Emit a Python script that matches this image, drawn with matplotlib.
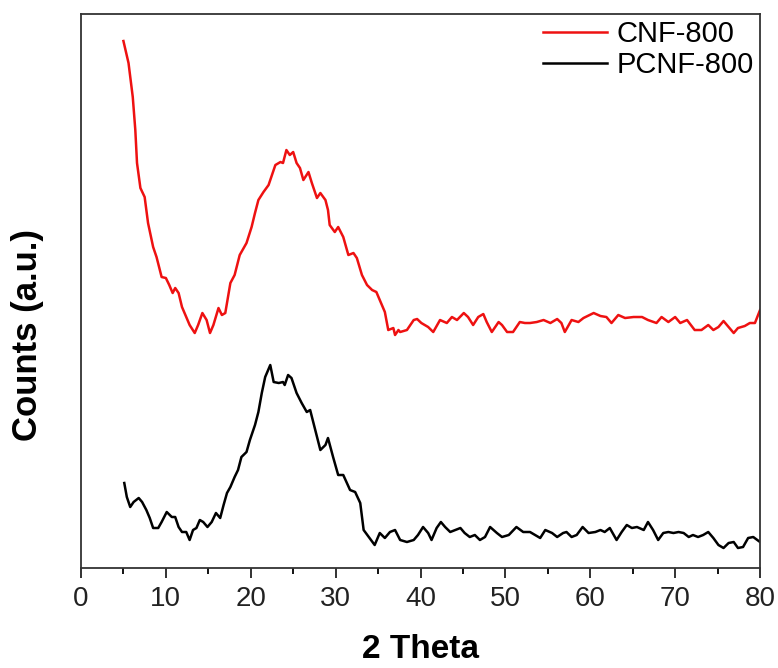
import matplotlib
matplotlib.use("Agg")
import matplotlib.pyplot as plt
from matplotlib.ticker import MultipleLocator

plt.rcParams['font.family'] = ['Liberation Sans', 'DejaVu Sans']

# XRD patterns (2 theta in degrees, intensity in a.u.)
cnf_theta = [5.0, 5.6, 6.1, 6.4, 6.6, 7.0, 7.5, 7.9, 8.5, 8.9, 9.5, 10.0, 10.4, 10.8,
             11.1, 11.5, 11.9, 12.3, 12.8, 13.4, 13.8, 14.3, 14.8, 15.2, 15.6, 16.2,
             16.6, 17.0, 17.6, 18.1, 18.7, 19.5, 20.1, 20.5, 20.9, 21.5, 22.1, 22.5,
             22.9, 23.5, 23.8, 24.2, 24.6, 25.0, 25.4, 25.8, 26.2, 26.8, 27.2, 27.8,
             28.2, 28.8, 29.1, 29.3, 29.9, 30.3, 30.9, 31.5, 32.1, 32.5, 33.1, 33.7,
             34.3, 34.8, 35.2, 35.8, 36.2, 36.8, 37.0, 37.4, 37.6, 38.4, 39.2, 39.6,
             40.1, 40.9, 41.5, 42.3, 43.1, 43.7, 44.3, 45.1, 45.6, 46.2, 46.8, 47.4,
             47.8, 48.4, 49.2, 49.6, 50.2, 50.9, 51.7, 52.3, 52.9, 53.7, 54.5, 55.3,
             56.1, 56.6, 57.0, 57.8, 58.6, 59.2, 60.4, 61.2, 61.9, 62.5, 63.3, 64.1,
             65.1, 66.1, 66.8, 67.8, 68.4, 69.2, 70.0, 70.6, 71.4, 72.3, 73.1, 73.9,
             74.5, 75.1, 75.7, 76.3, 76.9, 77.4, 78.2, 78.8, 79.4, 80.0]
cnf_counts = [527, 505, 471, 438, 405, 380, 371, 345, 321, 311, 291, 290, 283, 275,
              280, 275, 261, 253, 243, 235, 243, 255, 248, 235, 243, 260,
              253, 255, 285, 293, 313, 325, 341, 355, 368, 376, 383, 393,
              403, 406, 405, 418, 413, 416, 405, 400, 388, 396, 385, 370,
              375, 368, 358, 343, 336, 341, 331, 313, 315, 310, 293, 283,
              278, 276, 268, 256, 238, 240, 233, 238, 236, 238, 248, 249,
              245, 241, 236, 248, 245, 251, 248, 255, 251, 243, 251, 254,
              246, 236, 246, 243, 236, 236, 246, 245, 245, 246, 248, 245,
              249, 245, 236, 248, 246, 250, 255, 252, 251, 245, 253, 250,
              251, 251, 248, 245, 251, 246, 251, 245, 248, 238, 238, 243,
              238, 241, 247, 241, 235, 240, 242, 245, 245, 258]

pcnf_theta = [5.1, 5.4, 5.8, 6.2, 6.8, 7.2, 7.7, 8.1, 8.5, 9.1, 9.5, 10.1, 10.7, 11.1,
              11.5, 11.9, 12.4, 12.8, 13.2, 13.6, 14.0, 14.4, 14.9, 15.4, 15.9, 16.4,
              16.8, 17.2, 17.6, 18.1, 18.5, 18.9, 19.5, 19.9, 20.5, 20.9, 21.3, 21.7,
              22.3, 22.7, 23.3, 23.8, 24.0, 24.4, 24.8, 25.4, 26.0, 26.6, 27.0, 27.6,
              28.2, 28.8, 29.1, 29.7, 30.3, 30.9, 31.7, 32.3, 32.9, 33.3, 33.9, 34.6,
              35.2, 35.8, 36.4, 37.0, 37.6, 38.4, 39.2, 39.7, 40.3, 40.9, 41.3, 41.9,
              42.4, 42.9, 43.5, 44.1, 44.7, 45.2, 45.8, 46.4, 47.0, 47.6, 48.2, 49.0,
              49.6, 50.4, 51.3, 52.1, 52.9, 53.5, 54.1, 54.7, 55.5, 56.1, 56.8, 57.2,
              57.8, 58.4, 59.1, 59.8, 60.6, 61.2, 61.7, 62.3, 63.1, 63.7, 64.3, 64.9,
              65.5, 66.3, 66.8, 67.4, 68.0, 68.6, 69.2, 69.8, 70.4, 71.0, 71.6, 72.1,
              72.7, 73.3, 73.9, 74.5, 75.1, 75.7, 76.3, 76.9, 77.4, 78.0, 78.6, 79.2,
              80.0]
pcnf_counts = [85, 71, 61, 66, 70, 66, 58, 50, 40, 40, 46, 56, 51, 51,
               41, 36, 36, 28, 38, 40, 48, 46, 41, 46, 55, 50,
               63, 75, 81, 91, 98, 111, 116, 128, 143, 156, 175, 191,
               203, 186, 185, 186, 183, 193, 190, 175, 165, 156, 158, 138,
               118, 123, 130, 111, 93, 93, 78, 76, 65, 38, 31, 23,
               35, 30, 36, 38, 28, 26, 28, 33, 41, 35, 28, 40,
               46, 41, 36, 38, 40, 35, 31, 33, 28, 31, 41, 35,
               31, 33, 41, 36, 36, 33, 30, 38, 35, 31, 35, 36,
               31, 33, 41, 35, 36, 38, 36, 40, 28, 36, 43, 40,
               41, 38, 46, 38, 28, 35, 36, 35, 36, 35, 31, 33,
               31, 33, 36, 30, 23, 20, 25, 26, 20, 21, 30, 31,
               26]

fig = plt.figure(figsize=(7.78, 6.68), dpi=100)
ax = fig.add_axes([0.1041, 0.1497, 0.8728, 0.8293])

ax.plot(cnf_theta, cnf_counts, color='#ee1111', lw=1.8, label='CNF-800')
ax.plot(pcnf_theta, pcnf_counts, color='black', lw=1.8, label='PCNF-800')

ax.set_xlim(0, 80)
ax.set_ylim(0, 554)
ax.xaxis.set_major_locator(MultipleLocator(10))
ax.xaxis.set_minor_locator(MultipleLocator(5))
ax.tick_params(axis='x', which='major', direction='out', length=7, width=1.3,
               labelsize=20, pad=6, colors='#222222')
ax.tick_params(axis='x', which='minor', direction='out', length=4.5, width=1.3)
ax.set_yticks([])
for s in ax.spines.values():
    s.set_linewidth(1.3)
    s.set_color('#333333')

ax.set_xlabel('2 Theta', fontsize=24, fontweight='bold')
ax.xaxis.set_label_coords(0.5, -0.12)
ax.set_ylabel('Counts (a.u.)', fontsize=25, fontweight='bold')
ax.yaxis.set_label_coords(-0.055, 0.42)

ax.legend(loc='upper right', frameon=False, fontsize=21, handlelength=2.2,
          handletextpad=0.35, labelspacing=0.1, borderaxespad=0.15,
          borderpad=0.05)

fig.savefig('out.png', dpi=100)
